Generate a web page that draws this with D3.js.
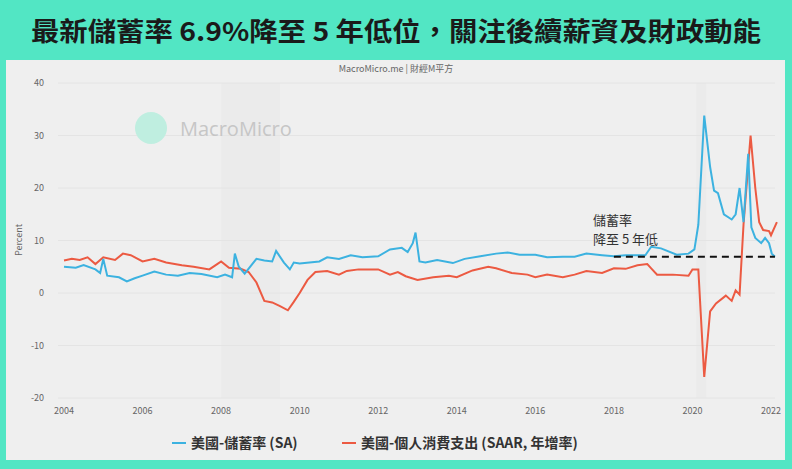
<!DOCTYPE html><html><head><meta charset="utf-8">
<script src="https://cdn.jsdelivr.net/npm/d3@7"></script>
<style>body{margin:0;background:#52e6c4;font-family:"Noto Sans CJK TC","Noto Sans",sans-serif}</style></head><body>
<svg id="c" width="792" height="469"></svg>
<script>
const title="最新儲蓄率 6.9%降至 5 年低位，關注後續薪資及財政動能";
const seriesNames=["美國-儲蓄率 (SA)","美國-個人消費支出 (SAAR, 年增率)"];
const yTicks=[-20,-10,0,10,20,30,40];
const xTicks=[2004,2006,2008,2010,2012,2014,2016,2018,2020,2022];
const savingX=[2004.0,2004.3,2004.5,2004.8,2004.92,2005.0,2005.1,2005.4,2005.6,2005.8,2006.0,2006.3,2006.6,2006.9,2007.2,2007.5,2007.9,2008.1,2008.28,2008.35,2008.45,2008.6,2008.9,2009.1,2009.3,2009.4,2009.6,2009.75,2009.85,2010.0,2010.5,2010.7,2011.0,2011.3,2011.6,2012.0,2012.3,2012.6,2012.75,2012.88,2012.95,2013.05,2013.2,2013.5,2013.9,2014.2,2014.6,2015.0,2015.3,2015.6,2016.0,2016.3,2016.7,2017.0,2017.3,2017.7,2018.0,2018.3,2018.8,2018.95,2019.2,2019.6,2019.9,2020.05,2020.15,2020.3,2020.45,2020.55,2020.65,2020.8,2021.0,2021.1,2021.2,2021.3,2021.42,2021.5,2021.6,2021.75,2021.85,2021.95,2022.02,2022.1];
const savingY=[5.0,4.8,5.3,4.5,3.8,6.5,3.3,3.0,2.2,2.8,3.3,4.1,3.5,3.3,3.8,3.6,3.0,3.5,3.0,7.5,5.0,3.7,6.5,6.2,6.0,8.0,5.8,4.5,5.8,5.6,6.0,6.8,6.5,7.2,6.8,7.0,8.3,8.6,7.8,9.5,11.5,6.0,5.8,6.3,5.7,6.5,7.0,7.5,7.7,7.3,7.3,6.8,6.9,6.9,7.5,7.2,7.0,7.2,7.2,8.8,8.5,7.3,7.5,8.3,13,33.8,24,19.5,19,15,14,15,20,13.5,26.5,12.5,10.5,9.5,10.5,9.5,7.5,6.9];
const pceX=[2004.0,2004.2,2004.4,2004.6,2004.8,2005.0,2005.3,2005.5,2005.7,2006.0,2006.3,2006.6,2007.0,2007.3,2007.7,2007.9,2008.0,2008.2,2008.5,2008.7,2008.9,2009.1,2009.3,2009.5,2009.7,2009.85,2010.0,2010.2,2010.4,2010.7,2011.0,2011.2,2011.5,2012.0,2012.3,2012.5,2012.7,2013.0,2013.4,2013.8,2014.0,2014.4,2014.8,2015.0,2015.4,2015.8,2016.0,2016.3,2016.7,2017.0,2017.3,2017.7,2018.0,2018.3,2018.6,2018.85,2018.95,2019.1,2019.5,2019.9,2020.0,2020.15,2020.3,2020.45,2020.6,2020.85,2021.0,2021.1,2021.2,2021.3,2021.48,2021.6,2021.7,2021.8,2021.95,2022.0,2022.15];
const pceY=[6.2,6.5,6.3,6.8,5.5,6.8,6.3,7.5,7.2,6.0,6.5,5.8,5.3,5.0,4.5,5.5,6.0,4.8,4.6,4.0,2.0,-1.5,-1.8,-2.5,-3.3,-1.7,0,2.5,4.0,4.2,3.5,4.2,4.5,4.5,3.5,4.0,3.2,2.5,3.0,3.3,3.0,4.3,5.0,4.7,3.8,3.5,3.0,3.5,3.0,3.5,4.2,3.8,4.7,4.6,5.3,5.5,4.7,3.5,3.5,3.3,4.5,4.5,-16,-3.5,-2.0,-0.5,-1.5,0.5,-0.3,13,30,20,13.5,12,11.8,11.0,13.5];
const svg=d3.select("#c");
svg.append("rect").attr("x",6).attr("y",60).attr("width",779).attr("height",400).attr("fill","#efefef");
svg.append("text").attr("x",396).attr("y",41).attr("text-anchor","middle").attr("font-size",26).attr("font-weight",700).attr("fill","#1a1a1a").attr("textLength",730).attr("lengthAdjust","spacingAndGlyphs").text(title);
svg.append("text").attr("x",396).attr("y",72).attr("text-anchor","middle").attr("font-size",9).attr("fill","#666").text("MacroMicro.me | 財經M平方");
const x=d3.scaleLinear().domain([2004,2022]).range([64,771]);
const y=d3.scaleLinear().domain([-20,40]).range([398,83]);
svg.append("rect").attr("x",x(2008)).attr("y",83).attr("width",x(2009.5)-x(2008)).attr("height",315).attr("fill","#ebebeb");
svg.append("rect").attr("x",x(2020.1)).attr("y",83).attr("width",x(2020.35)-x(2020.1)).attr("height",315).attr("fill","#ebebeb");
yTicks.forEach(t=>{svg.append("line").attr("x1",58).attr("x2",775).attr("y1",y(t)).attr("y2",y(t)).attr("stroke","#e4e4e4");
svg.append("text").attr("x",44).attr("y",y(t)+3).attr("text-anchor","end").attr("font-size",9).attr("fill","#666").text(t);});
xTicks.forEach(t=>svg.append("text").attr("x",x(t)).attr("y",414).attr("text-anchor","middle").attr("font-size",9).attr("fill","#666").text(t));
svg.append("text").attr("transform","translate(22,240) rotate(-90)").attr("text-anchor","middle").attr("font-size",9).attr("fill","#666").text("Percent");
svg.append("circle").attr("cx",151).attr("cy",128).attr("r",16).attr("fill","#bfeee0");
svg.append("text").attr("x",180).attr("y",136).attr("font-size",20).attr("fill","#c6c6c6").attr("font-family","Open Sans").text("MacroMicro");
const line=d3.line().x(d=>x(d[0])).y(d=>y(d[1]));
svg.append("path").datum(pceX.map((v,i)=>[v,pceY[i]])).attr("d",line).attr("fill","none").attr("stroke","#ec5a42").attr("stroke-width",2);
svg.append("path").datum(savingX.map((v,i)=>[v,savingY[i]])).attr("d",line).attr("fill","none").attr("stroke","#3cb2e0").attr("stroke-width",2);
svg.append("line").attr("x1",x(2018)).attr("x2",x(2022.1)).attr("y1",y(6.9)).attr("y2",y(6.9)).attr("stroke","#111").attr("stroke-width",2).attr("stroke-dasharray","7,5");
svg.append("text").attr("x",593).attr("y",225).attr("font-size",13).attr("fill","#333").text("儲蓄率");
svg.append("text").attr("x",593).attr("y",244).attr("font-size",13).attr("fill","#333").text("降至 5 年低");
const cols=["#3cb2e0","#ec5a42"];const lx=[172,342];
seriesNames.forEach((n,i)=>{svg.append("line").attr("x1",lx[i]).attr("x2",lx[i]+14).attr("y1",443).attr("y2",443).attr("stroke",cols[i]).attr("stroke-width",2);
svg.append("text").attr("x",lx[i]+19).attr("y",448).attr("font-size",14).attr("font-weight",700).attr("fill","#333").text(n);});
</script></body></html>
